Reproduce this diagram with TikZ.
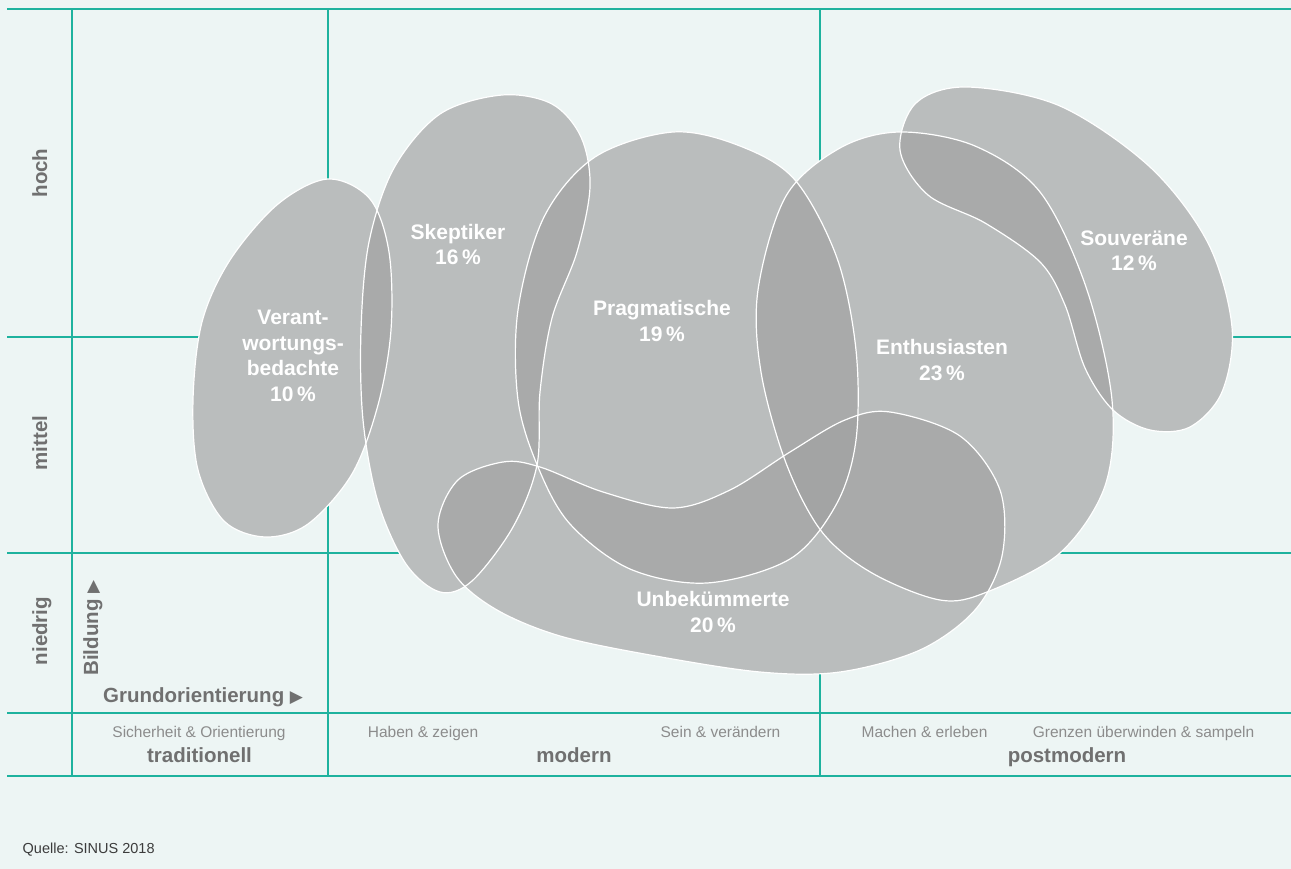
\documentclass[tikz,border=0pt]{standalone}
\usepackage{fontspec}
\setmainfont{Liberation Sans}
\newfontfamily\symfont{DejaVu Sans}
\definecolor{bgc}{RGB}{237,245,244}
\definecolor{gridc}{RGB}{30,178,158}
\definecolor{blobc}{RGB}{161,161,161}
\definecolor{labc}{RGB}{112,112,112}
\definecolor{subc}{RGB}{140,140,140}
\definecolor{srcc}{RGB}{60,60,60}
\begin{document}
\begin{tikzpicture}[x=1pt,y=-1pt,
  gridline/.style={draw=gridc, line width=1.6pt},
  blobmask/.style={fill=bgc},
  blobfill/.style={fill=blobc, fill opacity=0.66},
  blobline/.style={draw=white, line width=1.2pt},
  bloblabel/.style={text=white, align=center, inner sep=0pt, font=\fontsize{21}{25.5}\selectfont\bfseries},
  rowlabel/.style={text=labc, rotate=90, anchor=base, inner sep=0pt, font=\fontsize{20.5}{24}\selectfont\bfseries},
  sublabel/.style={text=subc, anchor=base, inner sep=0pt, font=\fontsize{15.5}{18}\selectfont},
  collabel/.style={text=labc, anchor=base, inner sep=0pt, font=\fontsize{20.5}{24}\selectfont\bfseries},
  shapeV/.style={insert path={plot[smooth cycle, tension=0.55] coordinates {(328,179) (370,199) (389,252) (391,330) (378,405) (352,474) (308,524) (265,537) (224,521) (198,470) (193,400) (202,322) (230,260) (278,204)}}},
  shapeS/.style={insert path={plot[smooth cycle, tension=0.55] coordinates {(502,95) (552,104) (581,137) (590,187) (577,252) (552,318) (540,392) (537,465) (513,527) (472,581) (440,592) (406,564) (378,502) (363,420) (361,330) (369,242) (394,168) (440,114)}}},
  shapeP/.style={insert path={plot[smooth cycle, tension=0.55] coordinates {(673,132) (740,146) (795,180) (837,258) (856,350) (856,440) (836,505) (790,559) (707,583) (630,569) (570,524) (538,467) (518,400) (518,310) (544,217) (595,157)}}},
  shapeE/.style={insert path={plot[smooth cycle, tension=0.55] coordinates {(900,132) (975,146) (1040,192) (1086,287) (1112,400) (1105,486) (1060,553) (987,592) (940,600) (872,573) (822,532) (786,463) (761,372) (758,290) (786,196) (840,148)}}},
  shapeSv/.style={insert path={plot[smooth cycle, tension=0.55] coordinates {(967,87) (1060,106) (1150,167) (1208,243) (1232,327) (1222,392) (1190,427) (1150,430) (1113,410) (1085,368) (1065,305) (1040,262) (985,223) (928,195) (900,150) (916,103)}}},
  shapeU/.style={insert path={plot[smooth cycle, tension=0.55] coordinates {(503,462) (540,467) (603,492) (673,508) (730,490) (790,452) (845,420) (890,412) (960,436) (1000,490) (1002,556) (975,610) (920,650) (840,672) (760,672) (650,655) (560,636) (497,610) (456,576) (438,525) (458,480)}}}
]
\useasboundingbox (0,0) rectangle (1291,869);
\fill[bgc] (0,0) rectangle (1291,869);
% grid
\draw[gridline] (7,9) -- (1291,9);
\draw[gridline] (7,337) -- (1291,337);
\draw[gridline] (7,553) -- (1291,553);
\draw[gridline] (7,713) -- (1291,713);
\draw[gridline] (7,776) -- (1291,776);
\draw[gridline] (72,9) -- (72,776);
\draw[gridline] (328,9) -- (328,776);
\draw[gridline] (820,9) -- (820,776);
% blobs: mask
\path[blobmask,shapeV];
\path[blobmask,shapeS];
\path[blobmask,shapeP];
\path[blobmask,shapeE];
\path[blobmask,shapeSv];
\path[blobmask,shapeU];
% blobs: fill
\path[blobfill,shapeV];
\path[blobfill,shapeS];
\path[blobfill,shapeP];
\path[blobfill,shapeE];
\path[blobfill,shapeSv];
\path[blobfill,shapeU];
% blobs: outline
\path[blobline,shapeV];
\path[blobline,shapeS];
\path[blobline,shapeP];
\path[blobline,shapeE];
\path[blobline,shapeSv];
\path[blobline,shapeU];
% blob labels
\node[bloblabel] (lv) at (293,356) {Verant-\\wortungs-\\bedachte\\10\,\%};
\node[bloblabel] (ls) at (458,244.5) {Skeptiker\\16\,\%};
\node[bloblabel] (lp) at (662,321) {Pragmatische\\19\,\%};
\node[bloblabel] (le) at (942,360) {Enthusiasten\\23\,\%};
\node[bloblabel] (lsv) at (1134,251) {Souveräne\\12\,\%};
\node[bloblabel] (lu) at (713,612) {Unbekümmerte\\20\,\%};
% row labels
\node[rowlabel] (hoch) at (47,173) {hoch};
\node[rowlabel] (mittel) at (47,443) {mittel};
\node[rowlabel] (niedrig) at (47,631) {niedrig};
\node[rowlabel] (bildung) at (98,628) {Bildung {\symfont\fontsize{17}{20}\selectfont ▶}};
\node[collabel, anchor=base west] (grund) at (103,702) {Grundorientierung {\symfont\fontsize{17}{20}\selectfont ▶}};
% bottom row
\node[sublabel] (s1) at (199,737) {Sicherheit \& Orientierung};
\node[collabel] (c1) at (199.5,762) {traditionell};
\node[sublabel] (s2) at (423,737) {Haben \& zeigen};
\node[sublabel] (s3) at (720.5,737) {Sein \& verändern};
\node[collabel] (c2) at (574,762) {modern};
\node[sublabel] (s4) at (924.5,737) {Machen \& erleben};
\node[sublabel] (s5) at (1143.5,737) {Grenzen überwinden \& sampeln};
\node[collabel] (c3) at (1067,762) {postmodern};
% source
\node[text=srcc, anchor=base west, inner sep=0pt, font=\fontsize{14.5}{17}\selectfont] (src) at (22.5,853) {Quelle: SINUS 2018};
\end{tikzpicture}
\end{document}
